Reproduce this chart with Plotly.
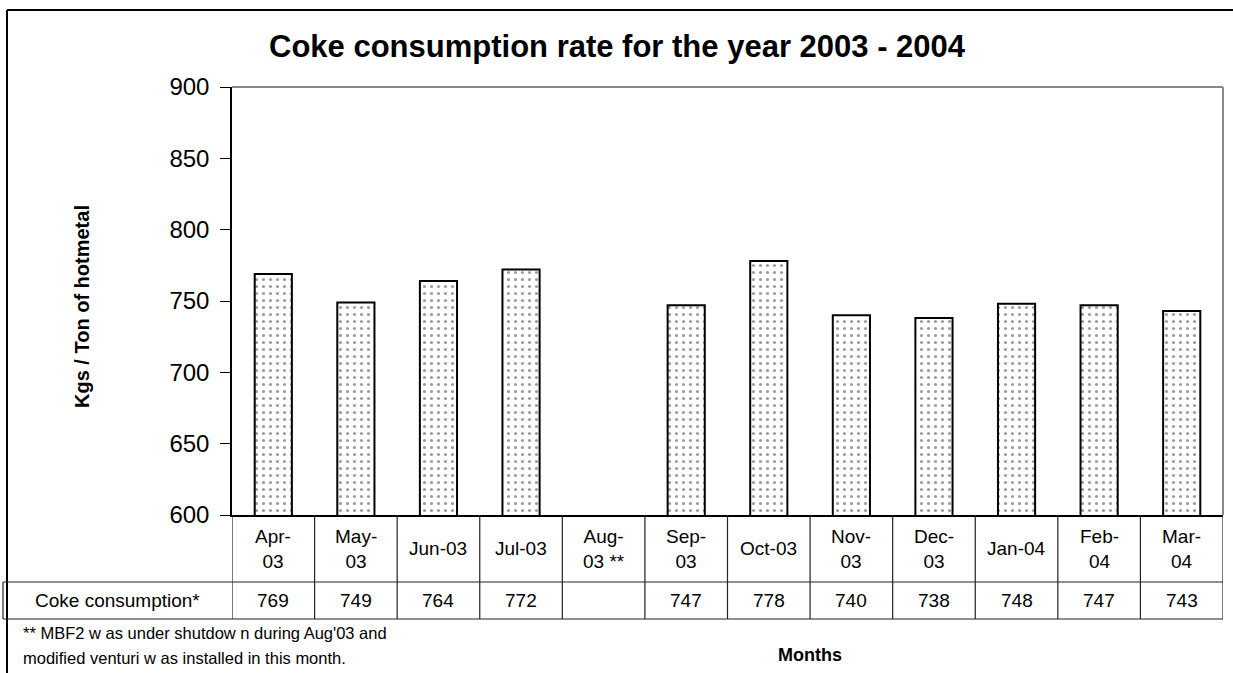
import plotly.graph_objects as go

# Monthly coke consumption (kg per ton of hot metal); Aug-03 had no production
months = ["Apr-03", "May-03", "Jun-03", "Jul-03", "Aug-03", "Sep-03",
          "Oct-03", "Nov-03", "Dec-03", "Jan-04", "Feb-04", "Mar-04"]
month_labels = ["Apr-<br>03", "May-<br>03", "Jun-03", "Jul-03", "Aug-<br>03 **",
                "Sep-<br>03", "Oct-03", "Nov-<br>03", "Dec-<br>03", "Jan-04",
                "Feb-<br>04", "Mar-<br>04"]
coke_rate = [769, 749, 764, 772, None, 747, 778, 740, 738, 748, 747, 743]

W, H = 1233, 673
L, R, T, B = 232, 1223, 87, 515   # plot area in pixels


def px(x):
    return (x - L) / (R - L)


def py(y):
    return (B - y) / (B - T)


FONT = "Liberation Sans, Arial, sans-serif"


def label(text, x, y, size, xref="paper", **kw):
    d = dict(x=x, xref=xref, y=y, yref="paper", text=text, showarrow=False,
             xanchor="center", yanchor="middle", align="center",
             font=dict(family=FONT, size=size, color="black"))
    d.update(kw)
    return d


fig = go.Figure()
fig.add_trace(go.Bar(
    x=months, y=coke_rate, width=0.45,
    marker=dict(color="white", line=dict(color="black", width=2),
                pattern=dict(shape=".", fgcolor="#3a3a3a", bgcolor="white",
                             size=7, solidity=0.16)),
    hoverinfo="x+y", showlegend=False,
))

shapes = []
line_c = "#222"
# gray top/right border of the plot area
shapes.append(dict(type="line", xref="paper", yref="paper", x0=0, x1=1, y0=1, y1=1,
                   line=dict(color="#888", width=2)))
shapes.append(dict(type="line", xref="paper", yref="paper", x0=1, x1=1, y0=0, y1=1,
                   line=dict(color="#888", width=2)))
# outer chart frame (left and top)
shapes.append(dict(type="line", xref="paper", yref="paper", x0=px(7), x1=px(7),
                   y0=py(10), y1=py(H + 5), line=dict(color="black", width=2)))
shapes.append(dict(type="line", xref="paper", yref="paper", x0=px(7), x1=px(W + 5),
                   y0=py(10), y1=py(10), line=dict(color="black", width=2)))

# data table under the axis
row1_bot, row2_bot = 582, 619
for k in range(len(months) + 1):
    shapes.append(dict(type="line", xref="x", yref="paper", x0=k - 0.5, x1=k - 0.5,
                       y0=py(B), y1=py(row2_bot), line=dict(color=line_c, width=1.2)))
for yy in (row1_bot, row2_bot):
    shapes.append(dict(type="line", xref="paper", yref="paper", x0=px(3), x1=1,
                       y0=py(yy), y1=py(yy), line=dict(color=line_c, width=1.2)))
shapes.append(dict(type="line", xref="paper", yref="paper", x0=px(3), x1=px(3),
                   y0=py(row1_bot), y1=py(row2_bot), line=dict(color=line_c, width=1.2)))

annotations = []
for i, lab in enumerate(month_labels):
    annotations.append(label(lab, i, py((B + row1_bot) / 2), 19, xref="x"))
for i, v in enumerate(coke_rate):
    annotations.append(label("" if v is None else str(v), i,
                             py((row1_bot + row2_bot) / 2), 19, xref="x"))
annotations.append(label("Coke consumption*", px(117), py((row1_bot + row2_bot) / 2), 19))

annotations.append(label("<b>Coke consumption rate for the year 2003 - 2004</b>",
                         px(617), py(46), 31))
annotations.append(label("<b>Kgs / Ton of hotmetal</b>", px(82), py(307), 20,
                         textangle=-90))
annotations.append(label("<b>Months</b>", px(810), py(655), 18))
annotations.append(label("** MBF2 w as under shutdow n during Aug'03 and",
                         px(21), py(633), 16.5, xanchor="left"))
annotations.append(label("modified venturi w as installed in this month.",
                         px(21), py(658), 16.5, xanchor="left"))

fig.update_layout(
    width=W, height=H,
    margin=dict(l=L, r=W - R, t=T, b=H - B, pad=0),
    paper_bgcolor="white", plot_bgcolor="white",
    shapes=shapes, annotations=annotations,
    xaxis=dict(range=[-0.5, len(months) - 0.5], showticklabels=False, ticks="",
               showgrid=False, zeroline=False, showline=True,
               linecolor="black", linewidth=2, fixedrange=True),
    yaxis=dict(range=[600, 900], dtick=50, tick0=600, ticks="outside", ticklen=10,
               tickcolor="black", tickwidth=1, showgrid=False, zeroline=False,
               showline=True, linecolor="black", linewidth=1.5, ticklabelstandoff=6,
               tickfont=dict(family=FONT, size=24, color="black"), fixedrange=True),
)

fig.write_html("out.html")
